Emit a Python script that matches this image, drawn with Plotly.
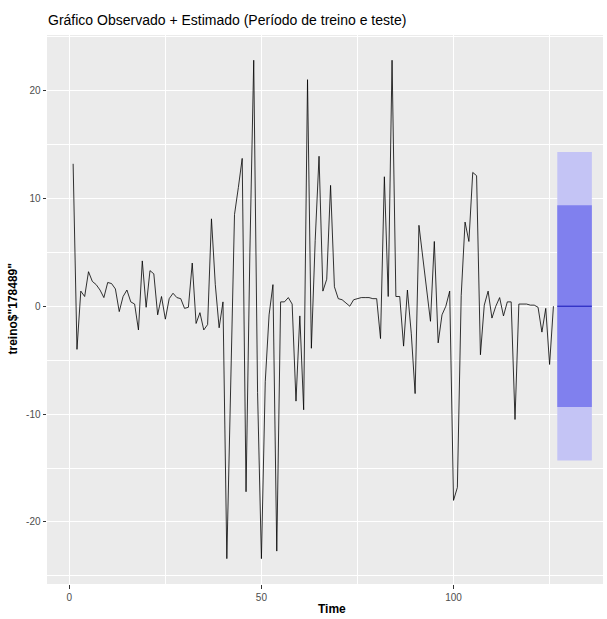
import plotly.graph_objects as go

# Observed series (training + test period)
obs_time = list(range(1, 127))
obs_value = [
    13.2, -4.0, 1.4, 0.9, 3.2, 2.3, 2.0, 1.5, 0.8, 2.2,
    2.1, 1.6, -0.5, 0.9, 1.5, 0.4, 0.2, -2.2, 4.2, -0.1,
    3.3, 3.0, -0.8, 0.9, -1.2, 0.7, 1.2, 0.8, 0.7, -0.2,
    -0.1, 4.0, -1.6, -0.6, -2.2, -1.7, 8.1, 2.0, -2.0, 0.4,
    -23.4, -7.0, 8.5, 11.0, 13.7, -17.2, 5.0, 22.8, -8.0, -23.4,
    -7.0, -0.8, 2.0, -22.7, 0.4, 0.4, 0.8, 0.2, -8.8, -0.9,
    -9.6, 21.0, -3.9, 6.1, 13.9, 1.4, 2.5, 11.2, 1.8, 0.7,
    0.6, 0.3, 0.0, 0.6, 0.7, 0.8, 0.8, 0.8, 0.7, 0.7,
    -3.0, 12.0, 0.9, 22.8, 0.9, 0.9, -3.7, 1.5, -2.5, -8.1,
    7.5, 4.5, 1.5, -1.4, 6.0, -3.4, -0.8, 0.0, 1.4, -18.0,
    -16.8, 1.0, 7.8, 6.0, 12.4, 12.1, -4.5, 0.1, 1.4, -1.1,
    0.0, 0.8, -0.9, 0.4, 0.4, -10.5, 0.2, 0.2, 0.2, 0.1,
    0.1, -0.1, -2.4, -0.2, -5.4, 0.0,
]

# Forecast horizon with point forecast and prediction intervals
fc_time = [127, 128, 129, 130, 131, 132, 133, 134, 135, 136]
fc_mean = [0.0, 0.0, 0.0, 0.0, 0.0, 0.0, 0.0, 0.0, 0.0, 0.0]
fc_lo80 = [-9.35, -9.35, -9.35, -9.35, -9.35, -9.35, -9.35, -9.35, -9.35, -9.35]
fc_hi80 = [9.35, 9.35, 9.35, 9.35, 9.35, 9.35, 9.35, 9.35, 9.35, 9.35]
fc_lo95 = [-14.3, -14.3, -14.3, -14.3, -14.3, -14.3, -14.3, -14.3, -14.3, -14.3]
fc_hi95 = [14.3, 14.3, 14.3, 14.3, 14.3, 14.3, 14.3, 14.3, 14.3, 14.3]

x_ticks = [0, 50, 100]
y_ticks = [-20, -10, 0, 10, 20]

FONT = "Liberation Sans, Arial, sans-serif"

fig = go.Figure()

# 95% interval band
fig.add_trace(go.Scatter(
    x=fc_time + fc_time[::-1], y=fc_hi95 + fc_lo95[::-1],
    fill="toself", fillcolor="#C4C4F5", line=dict(width=0),
    mode="lines", hoverinfo="skip",
))
# 80% interval band
fig.add_trace(go.Scatter(
    x=fc_time + fc_time[::-1], y=fc_hi80 + fc_lo80[::-1],
    fill="toself", fillcolor="#8080EE", line=dict(width=0),
    mode="lines", hoverinfo="skip",
))
# point forecast
fig.add_trace(go.Scatter(
    x=fc_time, y=fc_mean, mode="lines",
    line=dict(color="#1414B8", width=1),
))
# observed series
fig.add_trace(go.Scatter(
    x=obs_time, y=obs_value, mode="lines",
    line=dict(color="#000000", width=0.8),
))

axis_common = dict(
    showgrid=True, gridcolor="#FFFFFF", gridwidth=1.1,
    zeroline=False, showline=False,
    ticks="outside", ticklen=3.5, tickwidth=1, tickcolor="#333333",
    tickfont=dict(family=FONT, size=10, color="#4D4D4D"),
)

fig.update_layout(
    width=607, height=619,
    margin=dict(l=47, r=4, t=35, b=35),
    paper_bgcolor="#FFFFFF", plot_bgcolor="#EBEBEB",
    showlegend=False,
    font=dict(family=FONT),
    title=dict(
        text="Gráfico Observado + Estimado (Período de treino e teste)",
        x=48 / 607, xanchor="left", xref="container",
        y=1 - 20 / 619, yanchor="middle", yref="container",
        font=dict(family=FONT, size=14, color="#000000"),
    ),
    xaxis=dict(
        range=[-5.8, 138.9], tickvals=x_ticks,
        ticktext=[str(v) for v in x_ticks],
        minor=dict(tickvals=[25, 75, 125], showgrid=True,
                   gridcolor="#FFFFFF", gridwidth=0.55),
        **axis_common,
    ),
    yaxis=dict(
        range=[-25.75, 25.14], tickvals=y_ticks,
        ticktext=[str(v) for v in y_ticks],
        minor=dict(tickvals=[-25, -15, -5, 5, 15, 25], showgrid=True,
                   gridcolor="#FFFFFF", gridwidth=0.55),
        **axis_common,
    ),
    annotations=[
        dict(text="<b>Time</b>", xref="paper", yref="paper",
             x=(332 - 47) / 556, y=-(609 - 584) / 549,
             xanchor="center", yanchor="middle", showarrow=False,
             font=dict(family=FONT, size=12, color="#000000")),
        dict(text='<b>treino$"178489"</b>', xref="paper", yref="paper",
             x=-(47 - 12) / 556, y=0.5, textangle=-90,
             xanchor="center", yanchor="middle", showarrow=False,
             font=dict(family=FONT, size=12, color="#000000")),
    ],
)

fig.write_html("out.html")
